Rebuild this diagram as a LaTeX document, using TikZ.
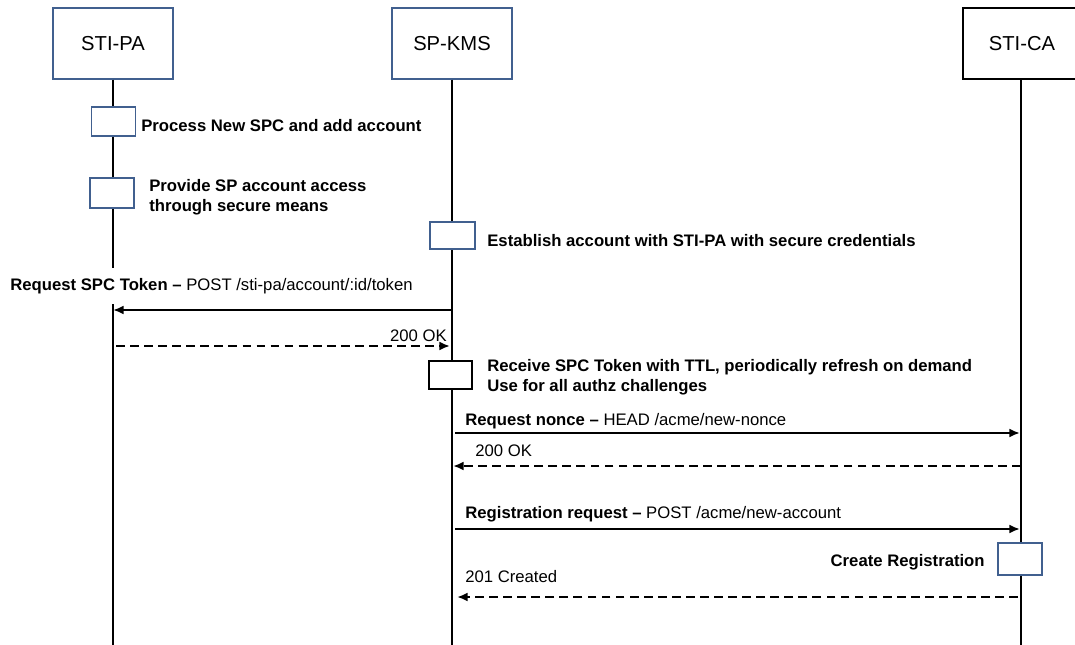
\documentclass[tikz,border=0pt]{standalone}
\usepackage{fontspec}
\setmainfont{Liberation Sans}
\usetikzlibrary{arrows.meta}
\definecolor{boxblue}{RGB}{65,96,143}

\tikzset{
  actor/.style={draw=boxblue, line width=0.8pt, minimum width=2.4cm, minimum height=1.42cm, font=\fontsize{11.5}{13}\selectfont},
  act/.style={draw=boxblue, line width=0.8pt, fill=white, minimum width=0.88cm, minimum height=0.58cm},
  life/.style={line width=0.75pt},
  msg/.style={line width=1.2pt, -{Latex[length=6pt,width=5pt]}},
  reply/.style={msg, line width=1.3pt, dash pattern=on 5pt off 3pt},
  note/.style={font=\fontsize{9.5}{11.3}\selectfont\bfseries, align=left, inner sep=0pt},
  txt/.style={font=\fontsize{9.5}{11.3}\selectfont, inner sep=0pt, text height=7pt, text depth=2pt}
}

\begin{document}
\begin{tikzpicture}[x=0.02cm, y=-0.02cm]
\useasboundingbox (0,0) rectangle (1075,645);

\node (pa) at (113,43.5) [actor]{STI-PA};
\node (kms) at (452,43.5) [actor]{SP-KMS};
\node (ca) at (1022,43.5) [actor, draw=black, minimum width=2.36cm]{STI-CA};

\coordinate (pa-end) at (113,645);
\coordinate (kms-end) at (452,645);
\coordinate (ca-end) at (1021,645);

\draw [life] (pa) -- (pa-end);
\draw [life] (kms) -- (kms-end);
\draw [life] ([xshift=-0.02cm]ca.south) -- (ca-end);

% activations
\node (a1) at (113.5,121.5) [act]{};
\node (a2) at (112,193) [act, minimum height=0.6cm]{};
\node (a3) at (452.5,235.5) [act, minimum width=0.9cm, minimum height=0.54cm]{};
\node (a4) at (450.5,375) [act, draw=black, minimum width=0.86cm, minimum height=0.56cm]{};
\node (a5) at (1020,559) [act, minimum height=0.64cm]{};

\node (n1) at (141,126) [note, anchor=west]{Process New SPC and add account};
\node (n2) at (149,197) [note, anchor=west]{Provide SP account access\\through secure means};
\node (n3) at (487,241) [note, anchor=west]{Establish account with STI-PA with secure credentials};
\node (n4) at (487,377) [note, anchor=west]{Receive SPC Token with TTL, periodically refresh on demand\\Use for all authz challenges};
\node (n5) at (985,562) [note, anchor=east]{Create Registration};

% messages
\coordinate (kms-m1) at (452,310);
\coordinate (pa-m1) at (113,310);
\coordinate (pa-m2) at (116,346);
\coordinate (kms-m2) at (450,346);
\coordinate (kms-m3) at (455,433);
\coordinate (ca-m3) at (1020,433);
\coordinate (ca-m4) at (1021,466);
\coordinate (kms-m4) at (453,466);
\coordinate (kms-m5) at (455,529);
\coordinate (ca-m5) at (1020,529);
\coordinate (ca-m6) at (1018,597);
\coordinate (kms-m6) at (457,597);

\draw [msg] (kms-m1) -- (pa-m1);
\draw [reply] (pa-m2) -- (kms-m2);
\draw [msg] (kms-m3) -- (ca-m3);
\draw [reply] (ca-m4) -- (kms-m4);
\draw [msg] (kms-m5) -- (ca-m5);
\draw [reply] (ca-m6) -- (kms-m6);

\node (l1) at (10,286) [txt, anchor=west, fill=white, inner ysep=6pt]{\textbf{Request SPC Token –} POST /sti-pa/account/:id/token};
\node (l2) at (447,337) [txt, anchor=east]{200 OK};
\node (l3) at (465,421) [txt, anchor=west]{\textbf{Request nonce –} HEAD /acme/new-nonce};
\node (l4) at (475,452) [txt, anchor=west]{200 OK};
\node (l5) at (465,514) [txt, anchor=west]{\textbf{Registration request –} POST /acme/new-account};
\node (l6) at (465,578) [txt, anchor=west]{201 Created};

\end{tikzpicture}
\end{document}
